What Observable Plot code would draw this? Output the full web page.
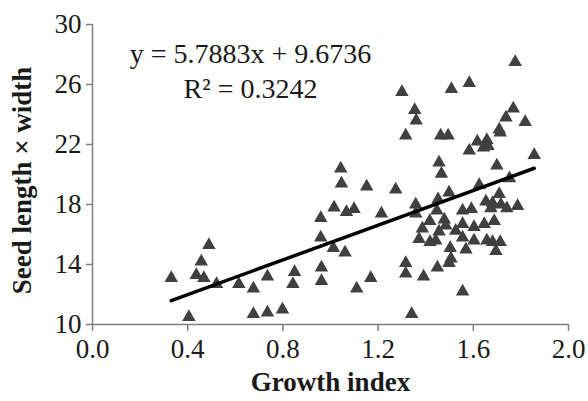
<!DOCTYPE html>
<html>
<head>
<meta charset="utf-8">
<script src="https://cdn.jsdelivr.net/npm/d3@7"></script>
<script src="https://cdn.jsdelivr.net/npm/@observablehq/plot@0.6"></script>
<style>
  html, body { margin: 0; padding: 0; background: #fff; }
  #chart svg { display: block; }
</style>
</head>
<body>
<div id="chart"></div>
<script>
// Data
const growthIndex = [
  0.331, 0.405, 0.436, 0.457, 0.468, 0.489, 0.521, 0.615, 0.676, 0.676,
  0.735, 0.735, 0.798, 0.849, 0.842, 0.959, 0.959, 0.962, 0.962, 1.015,
  1.012, 1.043, 1.046, 1.061, 1.067, 1.099, 1.110, 1.152, 1.169, 1.214,
  1.274, 1.300, 1.316, 1.316, 1.316, 1.341, 1.354, 1.360, 1.358, 1.358,
  1.372, 1.386, 1.391, 1.417, 1.418, 1.442, 1.447, 1.452, 1.449, 1.456,
  1.456, 1.463, 1.466, 1.478, 1.484, 1.494, 1.498, 1.503, 1.506, 1.498,
  1.508, 1.526, 1.555, 1.555, 1.555, 1.569, 1.555, 1.583, 1.583, 1.592,
  1.603, 1.603, 1.617, 1.625, 1.643, 1.646, 1.653, 1.657, 1.662, 1.657,
  1.674, 1.681, 1.681, 1.688, 1.695, 1.699, 1.709, 1.713, 1.709, 1.713,
  1.716, 1.737, 1.741, 1.752, 1.768, 1.776, 1.786, 1.818, 1.856
];
const seedSize = [
  13.1, 10.5, 13.3, 14.2, 13.1, 15.3, 12.7, 12.7, 12.4, 10.7,
  13.2, 10.8, 11.0, 13.5, 12.7, 17.1, 15.8, 13.8, 12.9, 17.8,
  15.1, 20.4, 19.4, 14.8, 17.5, 17.7, 12.4, 19.2, 13.1, 17.4,
  19.0, 25.5, 22.6, 14.1, 13.4, 10.7, 24.3, 23.6, 18.0, 17.4,
  15.7, 16.4, 13.2, 16.9, 15.5, 15.6, 17.6, 18.35, 13.8, 20.8,
  16.2, 22.6, 20.05, 17.0, 16.6, 22.6, 18.8, 15.1, 14.4, 14.1,
  25.7, 16.25, 17.6, 16.7, 15.8, 15.0, 12.2, 26.1, 21.6, 17.7,
  16.5, 15.6, 22.2, 19.3, 21.8, 16.7, 18.2, 22.3, 21.9, 15.6,
  17.75, 18.1, 15.5, 16.9, 14.9, 20.6, 23.0, 22.8, 18.7, 15.5,
  18.0, 23.8, 17.75, 19.75, 24.4, 27.5, 17.9, 23.5, 21.3
];
const xTicks = [0.0, 0.4, 0.8, 1.2, 1.6, 2.0];
const yTicks = [10, 14, 18, 22, 26, 30];
const slope = 5.7883;
const intercept = 9.6736;
const equationLabel = "y = 5.7883x + 9.6736";
const r2Label = "R² = 0.3242";
const xLabel = "Growth index";
const yLabel = "Seed length × width";

const fitX = [d3.min(growthIndex), d3.max(growthIndex)];
const axisGray = "#808080";
const serif = "'Liberation Serif', 'Times New Roman', serif";

const chart = Plot.plot({
  width: 588,
  height: 401,
  marginLeft: 92,
  marginRight: 20,
  marginTop: 24,
  marginBottom: 77,
  style: { fontFamily: serif, fontSize: "27px", color: "#1a1a1a", background: "#fff", overflow: "visible" },
  x: { domain: [0, 2] },
  y: { domain: [10, 30] },
  marks: [
    Plot.axisX({ ticks: xTicks, tickFormat: d3.format(".1f"), tickSize: 7, tickPadding: 7, stroke: axisGray, strokeWidth: 1.5, label: null, fontSize: 27 }),
    Plot.axisY({ ticks: yTicks, tickSize: 6, tickPadding: 5, stroke: axisGray, strokeWidth: 1.5, label: null, fontSize: 27 }),
    Plot.ruleY([10], { stroke: axisGray, strokeWidth: 1.5 }),
    Plot.ruleX([0], { stroke: axisGray, strokeWidth: 1.5 }),
    Plot.dot(growthIndex, { x: growthIndex, y: seedSize, symbol: "triangle", r: 5, fill: "#404040", stroke: "none" }),
    Plot.line(fitX, { x: d => d, y: d => slope * d + intercept, stroke: "#000", strokeWidth: 3.5 }),
    Plot.text([equationLabel], { text: d => d, frameAnchor: "top-left", textAnchor: "middle", dx: 158, dy: 19, fontSize: 28, fill: "#1a1a1a" }),
    Plot.text([r2Label], { text: d => d, frameAnchor: "top-left", textAnchor: "middle", dx: 158, dy: 54, fontSize: 28, fill: "#1a1a1a" }),
    Plot.text([xLabel], { text: d => d, frameAnchor: "bottom", dy: 66, fontSize: 27, fontWeight: "bold", fill: "#1a1a1a" }),
    Plot.text([yLabel], { text: d => d, frameAnchor: "left", textAnchor: "middle", rotate: -90, dx: -70, dy: 6, fontSize: 27, fontWeight: "bold", fill: "#1a1a1a" })
  ]
});
document.getElementById("chart").appendChild(chart);
</script>
</body>
</html>
